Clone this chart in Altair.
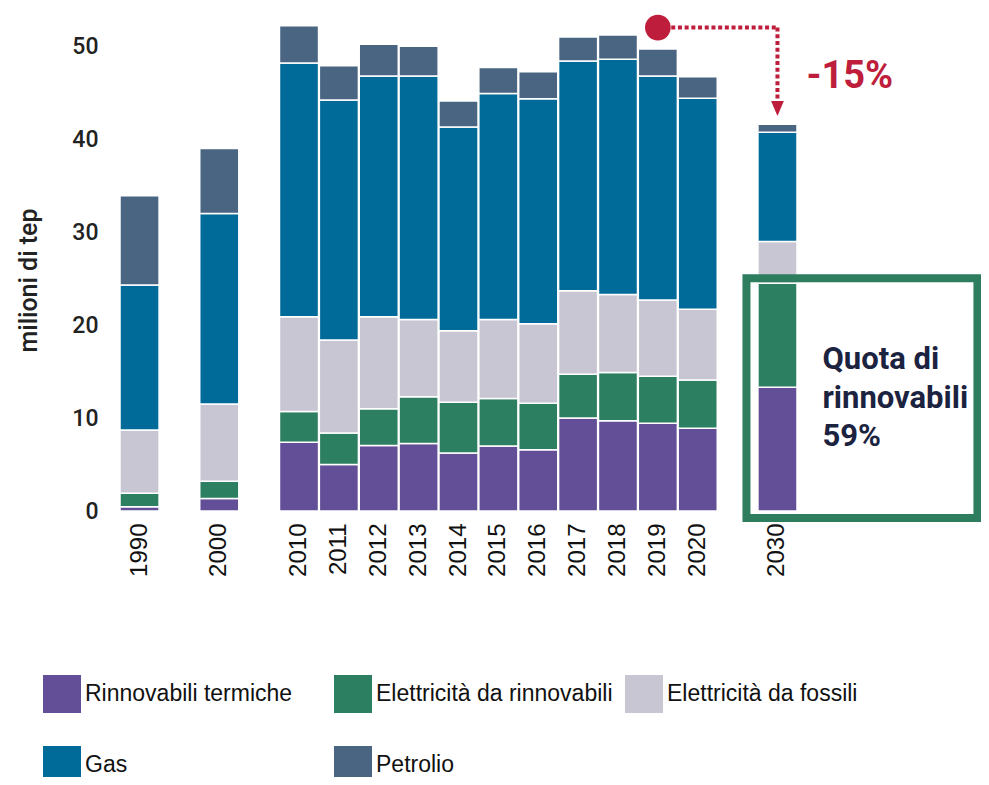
import altair as alt
import pandas as pd

# ---------------- data ----------------
years = ["1990", "2000", "2010", "2011", "2012", "2013", "2014", "2015",
         "2016", "2017", "2018", "2019", "2020", "2030"]
# category axis with blank slots for the gaps
x_domain = ["1990", " ", "2000", "  ", "2010", "2011", "2012", "2013", "2014",
            "2015", "2016", "2017", "2018", "2019", "2020", "   ", "2030"]

categories = ["Rinnovabili termiche", "Elettricità da rinnovabili",
              "Elettricità da fossili", "Gas", "Petrolio"]
colors = ["#634F97", "#2D7F62", "#C7C6D2", "#006B99", "#4A6581"]

rinnovabili_termiche = [0.45, 1.35, 7.4, 5.0, 7.05, 7.25, 6.25, 7.0, 6.6, 10.0, 9.7, 9.45, 8.9, 13.3]
elettricita_rinnovabili = [1.45, 1.85, 3.3, 3.4, 3.95, 5.05, 5.45, 5.1, 5.0, 4.7, 5.2, 5.05, 5.2, 11.2]
elettricita_fossili = [6.8, 8.3, 10.2, 10.0, 9.9, 8.3, 7.7, 8.5, 8.55, 9.0, 8.4, 8.2, 7.6, 4.5]
gas = [15.6, 20.5, 27.3, 25.8, 25.9, 26.2, 21.9, 24.3, 24.2, 24.7, 25.3, 24.1, 22.7, 11.75]
petrolio = [9.6, 7.0, 4.0, 3.7, 3.4, 3.2, 2.8, 2.8, 2.9, 2.6, 2.6, 2.9, 2.3, 0.85]

y_ticks = [0, 10, 20, 30, 40, 50]

# annotation values (in data units)
ann_from_year = "2019"
ann_to_year = "2030"
ann_level = 52.0
ann_arrow_end = 44.1
ann_arrow_tip = 43.3
ann_label = "-15%"
ann_label_y = 46.7
box_bottom = -0.75
box_top = 25.05
box_text = ["Quota di", "rinnovabili", "59%"]
box_text_y = 16.2

# ---------------- build table ----------------
series = [rinnovabili_termiche, elettricita_rinnovabili, elettricita_fossili, gas, petrolio]
rows = []
for ci, (cat, vals) in enumerate(zip(categories, series)):
    for y, v in zip(years, vals):
        rows.append({"year": y, "cat": cat, "value": v, "ord": ci})
df = pd.DataFrame(rows)

RED = "#BE1E3C"
GREEN = "#2E7D5F"
NAVY = "#1B2340"

x_scale = alt.Scale(domain=x_domain, paddingInner=0.02, paddingOuter=0)
y_scale = alt.Scale(domain=[0, 54], nice=False, zero=True)

bars = alt.Chart(df).mark_bar(stroke="white", strokeWidth=1.5).encode(
    x=alt.X("year:N", scale=x_scale, sort=x_domain,
            axis=alt.Axis(title=None, labelAngle=-90, labelAlign="right",
                          labelBaseline="middle", labelFont="Liberation Sans",
                          labelFontSize=24, labelColor="#111111", labelPadding=12,
                          ticks=False, tickSize=0, domain=False, labelOverlap=False)),
    y=alt.Y("value:Q", stack="zero", scale=y_scale,
            axis=alt.Axis(values=y_ticks, title="milioni di tep", grid=False,
                          domain=False, ticks=False, tickSize=0, labelPadding=22,
                          labelFont="Roboto", labelFontSize=23, labelFontWeight=500,
                          labelColor="#222222", titleFont="Roboto", titleFontSize=25,
                          titleFontWeight=500, titleColor="#222222",
                          titleX=-92, titleY=271, titleAngle=-90,
                          titleAlign="center", titleBaseline="middle")),
    color=alt.Color("cat:N", scale=alt.Scale(domain=categories, range=colors),
                    legend=alt.Legend(title=None, orient="none", legendX=-77, legendY=666,
                                      direction="horizontal", columns=3, gridAlign="all",
                                      columnPadding=12, rowPadding=33, symbolType="square",
                                      symbolSize=1444, symbolStrokeWidth=0,
                                      labelFont="Liberation Sans", labelFontSize=23,
                                      labelColor="#111111", labelOffset=4, labelLimit=400,
                                      padding=0)),
    order=alt.Order("ord:Q", sort="ascending"),
)

ann_df = pd.DataFrame([{"year": ann_from_year, "year2": ann_to_year, "y": ann_level}])
vline_df = pd.DataFrame([{"year": ann_to_year, "y": ann_level, "y2": ann_arrow_end}])
tip_df = pd.DataFrame([{"year": ann_to_year, "y": ann_arrow_tip}])
lab_df = pd.DataFrame([{"year": ann_to_year, "y": ann_label_y, "t": ann_label}])
box_df = pd.DataFrame([{"year": ann_to_year, "y": box_bottom, "y2": box_top, "ty": box_text_y}])

hline = alt.Chart(ann_df).mark_rule(color=RED, strokeWidth=4, strokeDash=[4, 2.7]).encode(
    x=alt.X("year:N", scale=x_scale), x2="year2:N", y=alt.Y("y:Q", scale=y_scale))
vline = alt.Chart(vline_df).mark_rule(color=RED, strokeWidth=4, strokeDash=[4, 2.7]).encode(
    x=alt.X("year:N", scale=x_scale), y=alt.Y("y:Q", scale=y_scale), y2="y2:Q")
dot = alt.Chart(ann_df).mark_point(filled=True, color=RED, opacity=1, size=660, shape="circle").encode(
    x=alt.X("year:N", scale=x_scale), y=alt.Y("y:Q", scale=y_scale))
tip = alt.Chart(tip_df).mark_point(filled=True, color=RED, opacity=1, size=225,
                                   shape="M-0.85,-1L0.85,-1L0,1Z").encode(
    x=alt.X("year:N", scale=x_scale), y=alt.Y("y:Q", scale=y_scale))
label = alt.Chart(lab_df).mark_text(color=RED, font="Roboto", fontSize=38, fontWeight="bold",
                                    align="left", baseline="middle", dx=29).encode(
    x=alt.X("year:N", scale=x_scale), y=alt.Y("y:Q", scale=y_scale), text="t:N")
box = alt.Chart(box_df).mark_rect(filled=False, stroke=GREEN, strokeWidth=8, width=231,
                                  xOffset=84.5).encode(
    x=alt.X("year:N", scale=x_scale), y=alt.Y("y:Q", scale=y_scale), y2="y2:Q")
box_label = alt.Chart(box_df).mark_text(text=box_text, color=NAVY, font="Roboto", fontSize=31,
                                        fontWeight="bold", align="left", baseline="middle",
                                        lineHeight=38.5, dx=45).encode(
    x=alt.X("year:N", scale=x_scale), y=alt.Y("ty:Q", scale=y_scale))

chart = alt.layer(bars, hline, vline, dot, tip, label, box, box_label).properties(
    width=677, height=502,
    background="white",
    autosize=alt.AutoSizeParams(type="none"),
    padding={"left": 112, "top": 1, "right": 184, "bottom": 266},
).configure_view(stroke=None, strokeWidth=0)

chart.save("out.html", embed_options={"renderer": "svg", "actions": False})
